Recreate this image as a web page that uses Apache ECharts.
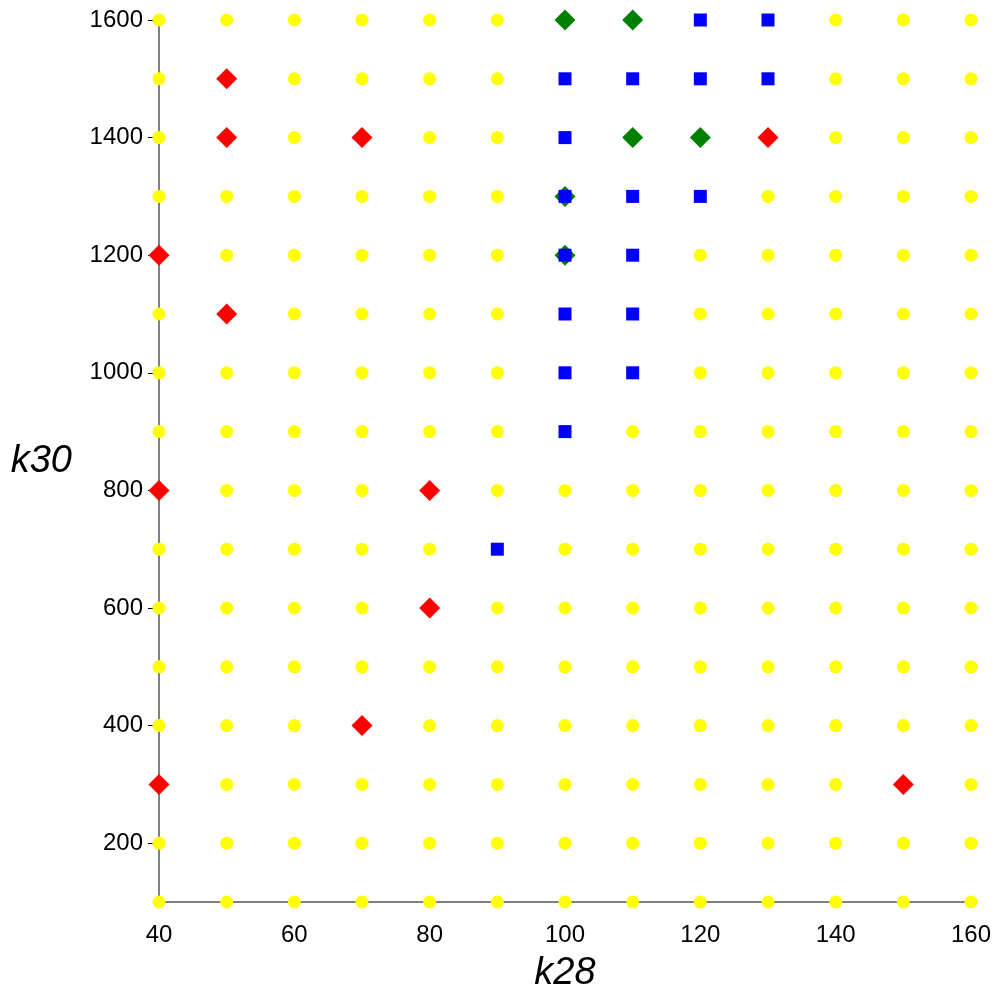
<!DOCTYPE html>
<html lang="en">
<head>
    <meta charset="UTF-8">
    <title>k28 / k30</title>
    <style>
        html, body { margin: 0; padding: 0; background: #fff; }
        #chart { width: 1000px; height: 1000px; }
    </style>
</head>
<body>
<div id="chart"></div>
<script src="https://cdn.jsdelivr.net/npm/echarts@6/dist/echarts.min.js"></script>
<script>
    // grid values of the two parameters
    var k28Values = [40, 50, 60, 70, 80, 90, 100, 110, 120, 130, 140, 150, 160];
    var k30Values = [100, 200, 300, 400, 500, 600, 700, 800, 900, 1000, 1100, 1200, 1300, 1400, 1500, 1600];
    var k30Labels = [200, 400, 600, 800, 1000, 1200, 1400, 1600];

    // special points [k28, k30]
    var redPoints = [[50, 1500], [50, 1400], [70, 1400], [130, 1400], [40, 1200], [50, 1100],
        [40, 800], [80, 800], [80, 600], [70, 400], [40, 300], [150, 300]];
    var greenPoints = [[100, 1600], [110, 1600], [110, 1400], [120, 1400], [100, 1300], [100, 1200]];
    var bluePoints = [[120, 1600], [130, 1600], [100, 1500], [110, 1500], [120, 1500], [130, 1500],
        [100, 1400], [100, 1300], [110, 1300], [120, 1300], [100, 1200], [110, 1200],
        [100, 1100], [110, 1100], [100, 1000], [110, 1000], [100, 900], [90, 700]];

    // yellow: every other grid point
    var taken = {};
    redPoints.concat(greenPoints, bluePoints).forEach(function (p) { taken[p[0] + '_' + p[1]] = 1; });
    var yellowPoints = [];
    k30Values.forEach(function (y) {
        k28Values.forEach(function (x) {
            if (!taken[x + '_' + y]) yellowPoints.push([x, y]);
        });
    });

    var chart = echarts.init(document.getElementById('chart'));
    var font = 'Liberation Sans, Arial, sans-serif';
    chart.setOption({
        backgroundColor: '#fff',
        animation: false,
        grid: { left: 159, right: 29, top: 20, bottom: 98 },
        xAxis: {
            type: 'value', min: 40, max: 160, interval: 10,
            name: 'k28', nameLocation: 'middle', nameGap: 52,
            nameTextStyle: { fontFamily: font, fontSize: 38, fontStyle: 'italic', color: '#000' },
            axisLine: { lineStyle: { color: '#808080', width: 2 } },
            axisTick: { length: 6, lineStyle: { color: '#000', width: 1 } },
            axisLabel: {
                margin: 21, fontFamily: font, fontSize: 24, color: '#000',
                formatter: function (v) { return v % 20 === 0 ? String(v) : ''; }
            },
            splitLine: { show: false }
        },
        yAxis: [{
            type: 'value', min: 100, max: 1600, interval: 100,
            name: 'k30', nameLocation: 'middle', nameGap: 87, nameRotate: 0,
            nameTextStyle: { fontFamily: font, fontSize: 38, fontStyle: 'italic', color: '#000' },
            axisLine: { show: true, onZero: false, lineStyle: { color: '#808080', width: 2 } },
            axisTick: { show: true, length: 5, lineStyle: { color: '#000', width: 1 } },
            axisLabel: {
                margin: 16, fontFamily: font, fontSize: 24, color: '#000',
                formatter: function (v) { return v % 200 === 0 ? String(v) : ''; }
            },
            splitLine: { show: false }
        }, {
            // longer ticks at the labelled values
            type: 'value', position: 'left', min: 100, max: 1600, interval: 100,
            axisLine: { show: false },
            axisTick: { show: true, length: 11, customValues: k30Labels, lineStyle: { color: '#000', width: 1 } },
            axisLabel: { show: false },
            splitLine: { show: false }
        }],
        series: [
            { type: 'scatter', data: yellowPoints, symbol: 'circle', symbolSize: 13,
              itemStyle: { color: '#ffff00', opacity: 1 }, z: 2 },
            { type: 'scatter', data: redPoints, symbol: 'diamond', symbolSize: 21,
              itemStyle: { color: '#ff0000', opacity: 1 }, z: 3 },
            { type: 'scatter', data: greenPoints, symbol: 'diamond', symbolSize: 21,
              itemStyle: { color: '#008000', opacity: 1 }, z: 4 },
            { type: 'scatter', data: bluePoints, symbol: 'rect', symbolSize: 13,
              itemStyle: { color: '#0000ff', opacity: 1 }, z: 5 }
        ]
    });
</script>
</body>
</html>
